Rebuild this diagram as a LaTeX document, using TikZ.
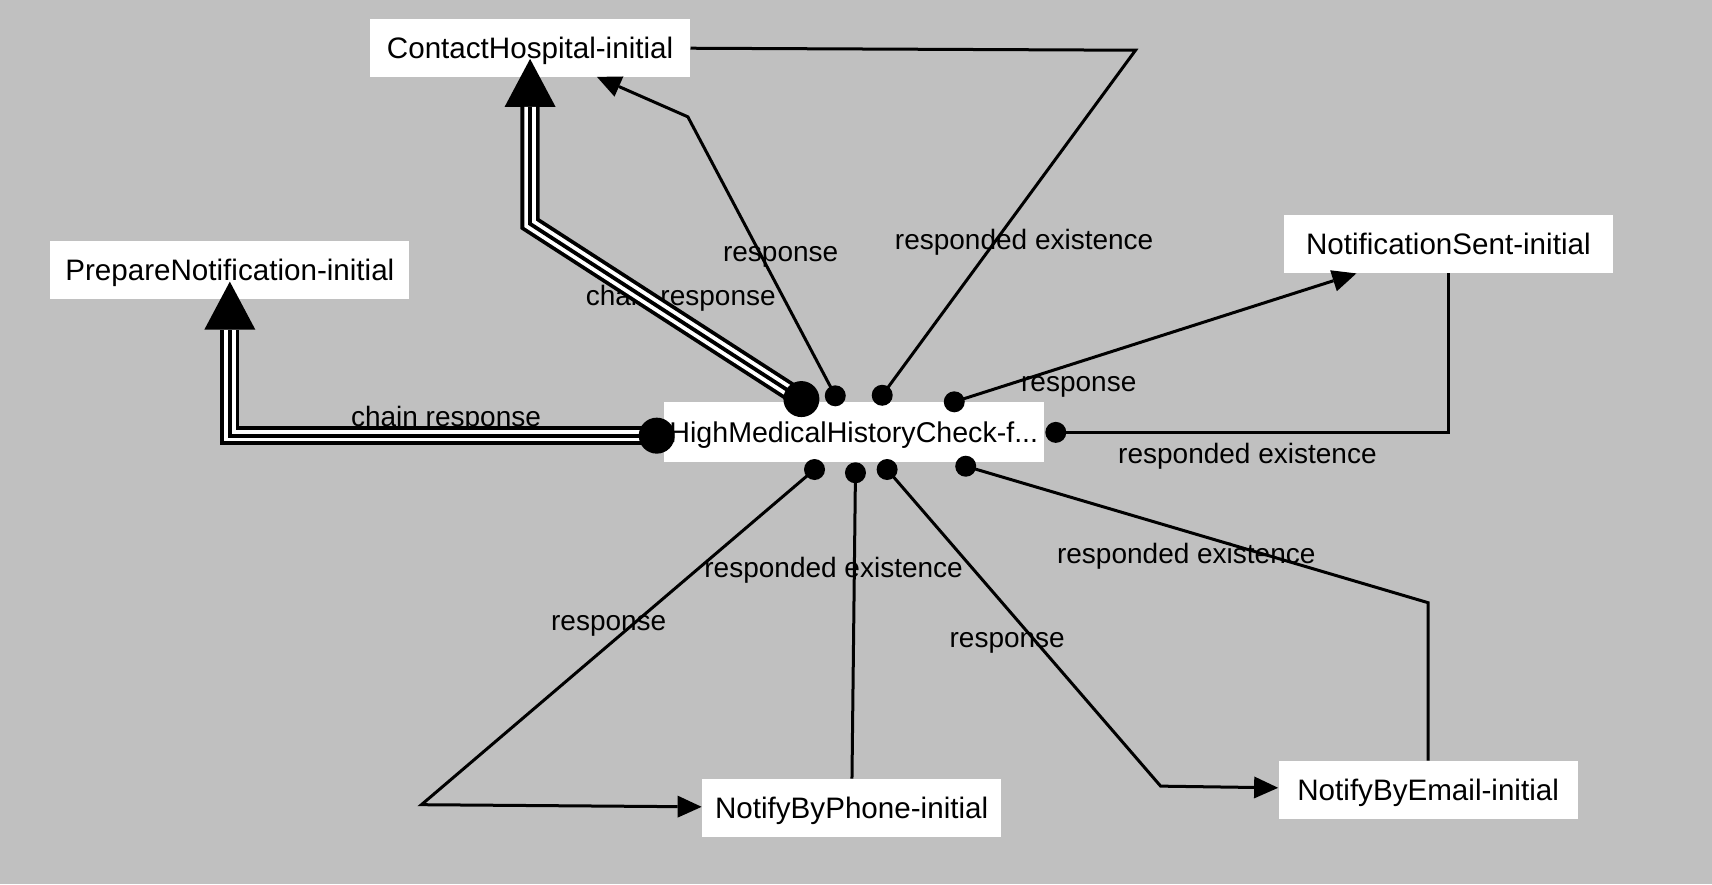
\documentclass[tikz,border=0pt]{standalone}
\usepackage{fontspec}
\setmainfont{Liberation Sans}
\usetikzlibrary{arrows.meta}
\definecolor{canvas}{RGB}{192,192,192}

\begin{document}
\begin{tikzpicture}[x=0.5459pt, y=-0.5459pt,
	box/.style={fill=white, inner xsep=2pt, inner ysep=0pt, minimum height=29pt, text height=10.6pt, text depth=0pt, font=\fontsize{14.8pt}{16pt}\selectfont},
	lbl/.style={inner sep=0pt, text height=10pt, text depth=0pt, font=\fontsize{14pt}{16pt}\selectfont},
	dot/.style={circle, fill=black, inner sep=0pt, minimum size=10.5pt},
	bigdot/.style={dot, minimum size=18pt},
	link/.style={line width=1.5pt},
	resp/.style={link, -{Triangle[length=12pt,width=11pt,line width=0pt]}},
	chainresp/.style={line width=9.6pt, shorten >=-9pt, -{Triangle[length=24pt,width=25.5pt,line width=0pt]},
	  postaction={draw, white, line width=5.8pt, -, shorten >=15pt},
	  postaction={draw, black, line width=1.9pt, -, shorten >=15pt}}
	]
  \fill[canvas] (0,0) rectangle (1568,810);
  \node[lbl] (l1) at (408.5,381) {chain response};
  \node[lbl] (l2) at (623.5,271) {chain response};
  \node[lbl] (l3) at (715,230) {response};
  \node[lbl] (l4) at (938,219) {responded existence};
  \node[lbl] (l5) at (988,349) {response};
  \node[lbl] (l6) at (1142.5,415) {responded existence};
  \node[lbl] (l7) at (1086.5,507) {responded existence};
  \node[lbl] (l8) at (922.5,584) {response};
  \node[lbl] (l9) at (763.5,520) {responded existence};
  \node[lbl] (l10) at (557.5,568) {response};

  \node[box, minimum width=160pt] (ch) at (485.5,43.5) {ContactHospital-initial};
  \node[box, minimum width=179.6pt] (pn) at (210.5,247.5) {PrepareNotification-initial};
  \node[box, minimum width=190pt, minimum height=30pt, font=\fontsize{14.3pt}{16pt}\selectfont] (hm) at (782,396) {HighMedicalHistoryCheck-f...};
  \node[box, minimum width=164.3pt] (ns) at (1326.5,223.5) {NotificationSent-initial};
  \node[box, minimum width=149.6pt] (np) at (780,740) {NotifyByPhone-initial};
  \node[box, minimum width=149.6pt] (ne) at (1308,723.5) {NotifyByEmail-initial};

  \coordinate (dw) at (601.5,399);
  \coordinate (dnw) at (734,365.5);
  \coordinate (dn1) at (765,362.5);
  \coordinate (dn2) at (808,362);
  \coordinate (dne) at (874,368);
  \coordinate (de) at (967,396);
  \coordinate (ds1) at (746,430);
  \coordinate (ds2) at (783.5,433);
  \coordinate (ds3) at (812.5,430);
  \coordinate (dse) at (884.5,427);
  \coordinate (chbend) at (485.5,205);
  \coordinate (b1) at (630,107);
  \coordinate (b2) at (1040,46);
  \coordinate (b3) at (1308,552);
  \coordinate (b4) at (1063,720);
  \coordinate (b5) at (386,737);

  \draw[chainresp] (dw) -- (pn.south |- dw) -- (pn.south);
  \draw[chainresp] (dnw) -- (chbend) -- (ch.south);
  \draw[resp] (dn1) -- (b1) -- (ch);
  \draw[link] (dn2) -- (b2) -- (ch);
  \draw[resp] (dne) -- (ns);
  \draw[link] (de) -| (ns.south);
  \draw[link] (dse) -- (b3) -- (ne.north);
  \draw[resp] (ds3) -- (b4) -- (ne);
  \draw[link] (ds2) -- (np);
  \draw[resp] (ds1) -- (b5) -- (np);

  \foreach \d in {dw,dnw} \node[bigdot] at (\d) {};
  \foreach \d in {dn1,dn2,dne,de,ds1,ds2,ds3,dse} \node[dot] at (\d) {};
\end{tikzpicture}
\end{document}
